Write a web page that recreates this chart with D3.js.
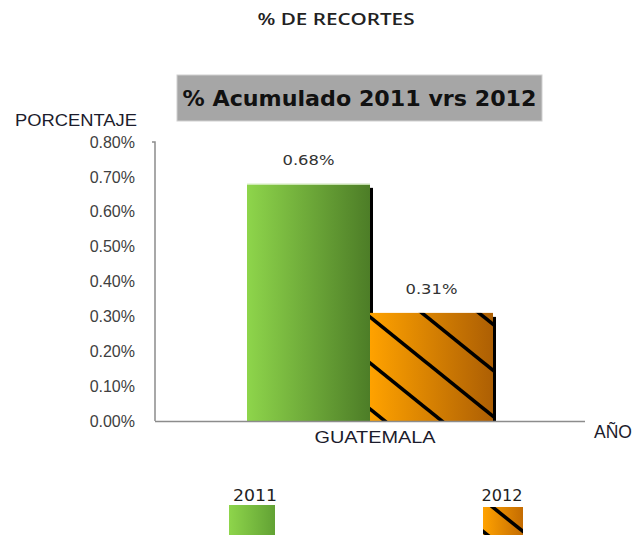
<!DOCTYPE html>
<html>
<head>
<meta charset="utf-8">
<script src="https://cdn.jsdelivr.net/npm/d3@7"></script>
<style>
  html, body { margin: 0; padding: 0; background: #fff; }
  svg { display: block; }
</style>
</head>
<body>
<svg id="chart" width="637" height="535"></svg>
<script>
// Data
const categories = ["GUATEMALA"];
const seriesNames = ["2011", "2012"];
const values2011 = [0.68];
const values2012 = [0.31];
const yTicks = [0, 0.1, 0.2, 0.3, 0.4, 0.5, 0.6, 0.7, 0.8];

const svg = d3.select("#chart");
const W = 637, H = 535;
const plot = { left: 155, right: 585, top: 142, bottom: 421 };

const y = d3.scaleLinear().domain([0, 0.8]).range([plot.bottom, plot.top]);
const x0 = d3.scaleBand().domain(categories)
  .range([plot.left, plot.right]).paddingInner(0).paddingOuter(0.374);
const x1 = d3.scaleBand().domain(seriesNames).range([0, x0.bandwidth()]).padding(0);

const defs = svg.append("defs");

// Gradients
const gGreen = defs.append("linearGradient").attr("id", "gGreen")
  .attr("x1", "0").attr("x2", "1").attr("y1", "0").attr("y2", "0");
gGreen.append("stop").attr("offset", "0").attr("stop-color", "#8ed54b");
gGreen.append("stop").attr("offset", "1").attr("stop-color", "#4d7d27");

const gOrange = defs.append("linearGradient").attr("id", "gOrange")
  .attr("x1", "0").attr("x2", "1").attr("y1", "0").attr("y2", "0");
gOrange.append("stop").attr("offset", "0").attr("stop-color", "#ffa200");
gOrange.append("stop").attr("offset", "1").attr("stop-color", "#ad5f04");

// Diagonal hatch for 2012
function hatch(id, x, yy, w, h) {
  const p = defs.append("pattern").attr("id", id)
    .attr("patternUnits", "userSpaceOnUse")
    .attr("x", x).attr("y", yy).attr("width", w).attr("height", h);
  [-1, 0, 1].forEach(k => {
    p.append("line")
      .attr("x1", k * w - w).attr("y1", -h)
      .attr("x2", k * w + 2 * w).attr("y2", 2 * h)
      .attr("stroke", "#000").attr("stroke-width", 3.6);
  });
}
hatch("hatchMain", 370, 317, 57, 46);
hatch("hatchLegend", 480, 497, 40, 32);

// Title
svg.append("text").attr("x", 336).attr("y", 25)
  .attr("text-anchor", "middle")
  .attr("font-family", "Open Sans, sans-serif").attr("font-weight", 600)
  .attr("font-size", 16).attr("fill", "#222")
  .attr("textLength", 157).attr("lengthAdjust", "spacingAndGlyphs")
  .text("% DE RECORTES");

// Sub-title box
svg.append("rect").attr("x", 177).attr("y", 75).attr("width", 365).attr("height", 46)
  .attr("fill", "#a6a6a6").attr("stroke", "#d0d0d0").attr("stroke-width", 1);
svg.append("text").attr("x", 359.5).attr("y", 106)
  .attr("text-anchor", "middle")
  .attr("font-family", "DejaVu Sans, sans-serif").attr("font-weight", "bold")
  .attr("font-size", 21).attr("fill", "#111")
  .attr("textLength", 354).attr("lengthAdjust", "spacingAndGlyphs")
  .text("% Acumulado 2011 vrs 2012");

// Y axis label
svg.append("text").attr("x", 15).attr("y", 126)
  .attr("font-family", "Liberation Sans, Arial, sans-serif")
  .attr("font-size", 16).attr("fill", "#1c1c2c")
  .attr("textLength", 122).attr("lengthAdjust", "spacingAndGlyphs")
  .text("PORCENTAJE");

// Y axis
const yAxis = d3.axisLeft(y).tickValues(yTicks)
  .tickFormat(d => d.toFixed(2) + "%").tickSize(0).tickPadding(20);
const gy = svg.append("g").attr("transform", `translate(${plot.left},0)`).call(yAxis);
gy.select(".domain").attr("stroke", "#8c8c8c").attr("stroke-width", 1.5)
  .attr("d", `M-3,${plot.top}H0V${plot.bottom}`);
gy.selectAll(".tick text")
  .attr("font-family", "Liberation Sans, Arial, sans-serif")
  .attr("font-size", 16).attr("fill", "#404040");

// Bars with dark edge shadow
const data = [
  { key: "2011", value: values2011[0], fill: "url(#gGreen)" },
  { key: "2012", value: values2012[0], fill: "url(#gOrange)" }
];
const cat = categories[0];
data.forEach(d => {
  const bx = x0(cat) + x1(d.key);
  const bw = x1.bandwidth();
  const by = y(d.value);
  svg.append("rect")
    .attr("x", bx + bw).attr("y", by + 4)
    .attr("width", 3).attr("height", plot.bottom - by - 4)
    .attr("fill", "#000");
  svg.append("rect")
    .attr("x", bx).attr("y", by)
    .attr("width", bw).attr("height", plot.bottom - by)
    .attr("fill", d.fill);
  if (d.key === "2012") {
    svg.append("rect")
      .attr("x", bx).attr("y", by)
      .attr("width", bw).attr("height", plot.bottom - by)
      .attr("fill", "url(#hatchMain)");
  } else {
    svg.append("line")
      .attr("x1", bx).attr("x2", bx + bw).attr("y1", by + 0.5).attr("y2", by + 0.5)
      .attr("stroke", "#d9efc4").attr("stroke-width", 1);
  }
  svg.append("text")
    .attr("x", bx + bw / 2).attr("y", by - 19)
    .attr("text-anchor", "middle")
    .attr("font-family", "DejaVu Sans, Verdana, sans-serif")
    .attr("font-size", 14).attr("fill", "#333")
    .attr("textLength", 52).attr("lengthAdjust", "spacingAndGlyphs")
    .text(d.value.toFixed(2) + "%");
});

// X axis
svg.append("line")
  .attr("x1", plot.left).attr("x2", plot.right)
  .attr("y1", plot.bottom + 0.5).attr("y2", plot.bottom + 0.5)
  .attr("stroke", "#8c8c8c").attr("stroke-width", 1.5);
svg.append("text")
  .attr("x", x0(cat) + x0.bandwidth() / 2 + 5).attr("y", 443)
  .attr("text-anchor", "middle")
  .attr("font-family", "Liberation Sans, Arial, sans-serif")
  .attr("font-size", 17).attr("fill", "#1c1c2c")
  .attr("textLength", 121).attr("lengthAdjust", "spacingAndGlyphs")
  .text(cat);
svg.append("text").attr("x", 594).attr("y", 438)
  .attr("font-family", "Liberation Sans, Arial, sans-serif")
  .attr("font-size", 17.5).attr("fill", "#1c1c2c")
  .text("AÑO");

// Legend
const legend = [
  { key: seriesNames[0], tx: 255, sx: 229, sy: 505, sw: 46, tw: 44 },
  { key: seriesNames[1], tx: 502, sx: 483, sy: 507, sw: 40, tw: 41 }
];
legend.forEach(l => {
  svg.append("text").attr("x", l.tx).attr("y", 501)
    .attr("text-anchor", "middle")
    .attr("font-family", "DejaVu Sans, Verdana, sans-serif")
    .attr("font-size", 15).attr("fill", "#222")
    .attr("textLength", l.tw).attr("lengthAdjust", "spacingAndGlyphs")
    .text(l.key);
  const gid = "lg" + l.key;
  const lg = defs.append("linearGradient").attr("id", gid)
    .attr("x1", "0").attr("x2", "1").attr("y1", "0").attr("y2", "0");
  const cols = l.key === "2011" ? ["#8ed54b", "#62a234"] : ["#ffa200", "#c46c02"];
  lg.append("stop").attr("offset", "0").attr("stop-color", cols[0]);
  lg.append("stop").attr("offset", "1").attr("stop-color", cols[1]);
  svg.append("rect").attr("x", l.sx).attr("y", l.sy).attr("width", l.sw).attr("height", H - l.sy)
    .attr("fill", `url(#${gid})`);
  if (l.key === "2012") {
    svg.append("rect").attr("x", l.sx).attr("y", l.sy).attr("width", l.sw).attr("height", H - l.sy)
      .attr("fill", "url(#hatchLegend)");
  }
});
</script>
</body>
</html>
